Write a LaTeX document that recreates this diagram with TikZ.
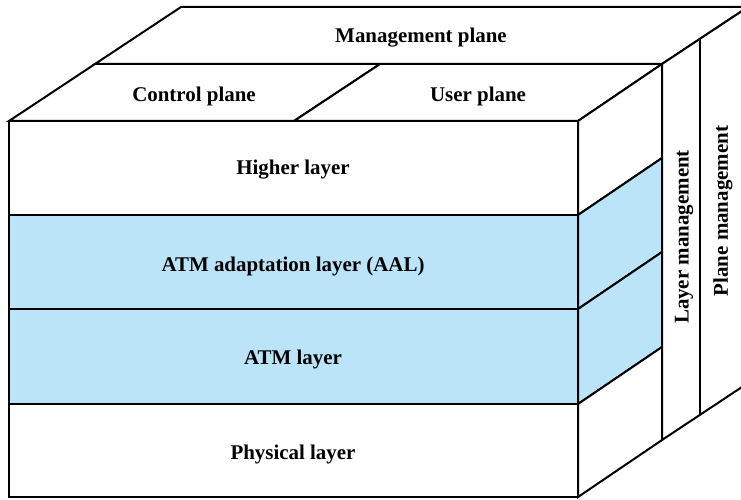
\documentclass[tikz,border=0pt]{standalone}
\usepackage{fontspec}
\setmainfont{Liberation Serif}
\usepackage{xcolor}
\usepackage{tikz}
\definecolor{AtmBlue}{RGB}{187, 228, 248}
\definecolor{AtmLine}{RGB}{0, 0, 0}

\begin{document}
\begin{tikzpicture}[x=0.75pt, y=-0.75pt, line width=1.5pt,
    face/.style={draw=AtmLine, fill=white},
    blueface/.style={draw=AtmLine, fill=AtmBlue},
    lbl/.style={font=\fontsize{15.7}{18}\selectfont\bfseries, inner sep=0pt}]
  \useasboundingbox (0,0) rectangle (741,499);

  % top: control, user and management planes
  \draw[face] (9,121) -- (294,121) -- (380,64) -- (95,64) -- cycle;
  \draw[face] (294,121) -- (578,121) -- (662,64) -- (380,64) -- cycle;
  \draw[face] (95,64) -- (662,64) -- (748,7) -- (181,7) -- cycle;

  % front layers and their side faces
  \foreach \top/\bot/\sty in {121/215/face, 215/309/blueface, 309/404/blueface, 404/497/face} {
    \draw[\sty] (9,\top) rectangle (578,\bot);
    \draw[\sty] (578,\top) -- (662,\top-57) -- (662,\bot-57) -- (578,\bot) -- cycle;
  }

  % management side faces
  \draw[face] (662,64) -- (748,7) -- (748,383) -- (662,440) -- cycle;
  \draw (700,38.8) -- (700,414.8);

  \node[lbl] (mgmtplane) at (421,38) {Management plane};
  \node[lbl] (ctrlplane) at (194,96) {Control plane};
  \node[lbl] (userplane) at (478,96) {User plane};
  \node[lbl] (higher) at (293,170) {Higher layer};
  \node[lbl] (aal) at (293,266) {ATM adaptation layer (AAL)};
  \node[lbl] (atm) at (293,359) {ATM layer};
  \node[lbl] (phys) at (293,454) {Physical layer};
  \node[lbl, rotate=90] (laymgmt) at (684,237) {Layer management};
  \node[lbl, rotate=90] (plnmgmt) at (723,211) {Plane management};
\end{tikzpicture}
\end{document}
